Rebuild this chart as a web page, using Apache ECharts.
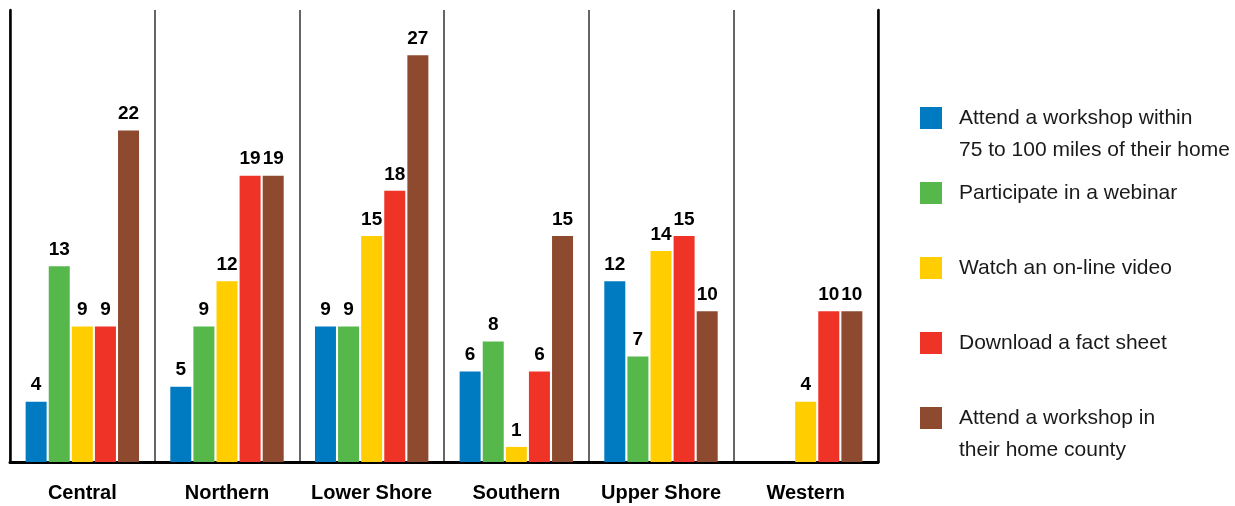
<!DOCTYPE html>
<html>
<head>
<meta charset="utf-8">
<script src="https://cdn.jsdelivr.net/npm/echarts@6/dist/echarts.min.js"></script>
<style>
html,body{margin:0;padding:0;background:#fff;}
#chart{width:1235px;height:506px;}
</style>
</head>
<body>
<div id="chart"></div>
<script>
const categories = ['Central', 'Northern', 'Lower Shore', 'Southern', 'Upper Shore', 'Western'];
const seriesNames = [
  'Attend a workshop within',
  'Participate in a webinar',
  'Watch an on-line video',
  'Download a fact sheet',
  'Attend a workshop in'
];
const legendSecondLines = ['75 to 100 miles of their home', '', '', '', 'their home county'];
const colors = ['#007bc2', '#56b74a', '#ffcd00', '#ef3327', '#8e4a2e'];
const workshopNear = [4, 5, 9, 6, 12, null];
const webinar = [13, 9, 9, 8, 7, null];
const video = [9, 12, 15, 1, 14, 4];
const factSheet = [9, 19, 18, 6, 15, 10];
const workshopHome = [22, 19, 27, 15, 10, 10];
const seriesValues = [workshopNear, webinar, video, factSheet, workshopHome];

const FONT = '"Liberation Sans", Arial, sans-serif';

const legendTops = [98, 173, 248, 323, 398];
const legends = seriesNames.map((n, i) => ({
  data: [n],
  left: 915,
  top: legendTops[i],
  itemWidth: 22,
  itemHeight: 22,
  icon: 'rect',
  selectedMode: false,
  textStyle: {
    fontFamily: FONT,
    fontSize: 21,
    color: '#1a1a1a',
    lineHeight: 30,
    padding: [0, 0, 0, 12]
  }
}));

const graphics = legendSecondLines.map((t, i) => t ? ({
  type: 'text',
  left: 959,
  top: legendTops[i] + 5 + 4 + 11 + 30 - 15 + 2,
  style: { text: t, fontFamily: FONT, fontSize: 21, fill: '#1a1a1a', lineHeight: 30 }
}) : null).filter(Boolean);

const chart = echarts.init(document.getElementById('chart'));
chart.setOption({
  animation: false,
  color: colors,
  legend: legends,
  graphic: graphics,
  grid: { left: 10, right: 357, top: 10, bottom: 44, containLabel: false },
  xAxis: {
    type: 'category',
    data: categories,
    axisTick: { show: false },
    axisLine: { show: true, lineStyle: { color: '#000', width: 3 } },
    axisLabel: {
      interval: 0,
      fontFamily: FONT, fontSize: 20, fontWeight: 'bold', color: '#000', margin: 21
    },
    splitLine: { show: true, interval: 0, lineStyle: { color: '#333', width: 1.5 } }
  },
  yAxis: [
    {
      type: 'value', min: 0, max: 30, position: 'left',
      axisLine: { show: true, lineStyle: { color: '#000', width: 2.5 } },
      axisLabel: { show: false }, axisTick: { show: false }, splitLine: { show: false }
    },
    {
      type: 'value', min: 0, max: 30, position: 'right',
      axisLine: { show: true, lineStyle: { color: '#000', width: 2.5 } },
      axisLabel: { show: false }, axisTick: { show: false }, splitLine: { show: false }
    }
  ],
  series: seriesValues.map((vals, i) => ({
    name: seriesNames[i],
    type: 'bar',
    data: vals,
    barWidth: 21,
    barGap: '10%',
    itemStyle: { color: colors[i] },
    label: {
      show: true,
      position: 'top',
      distance: 7,
      fontFamily: FONT,
      fontSize: 19,
      fontWeight: 'bold',
      color: '#000'
    }
  }))
});
</script>
</body>
</html>
